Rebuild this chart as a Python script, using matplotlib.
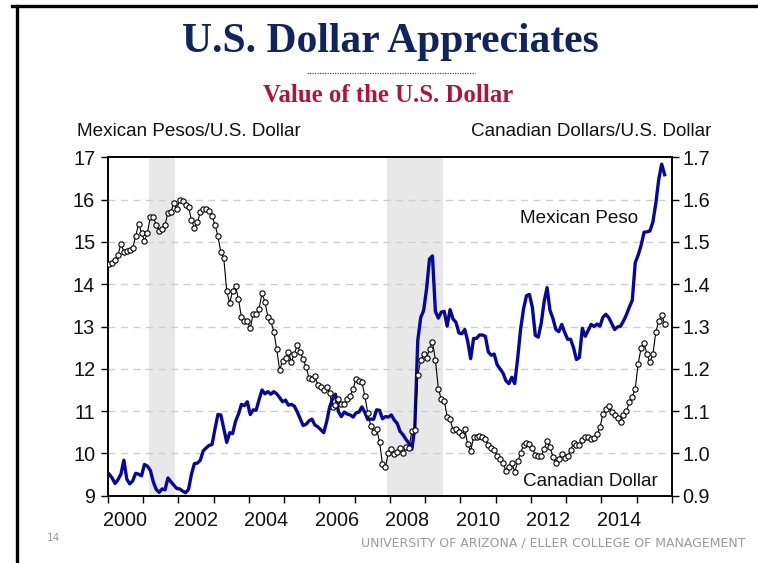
import numpy as np
import matplotlib
matplotlib.use("Agg")
import matplotlib.pyplot as plt
from matplotlib import font_manager
from matplotlib.lines import Line2D
from matplotlib.ticker import FixedLocator, NullFormatter

# ── Data: monthly averages, Jan 2000 - Oct 2015 ───────────────────────────────
start_year = 2000

# Mexican pesos per U.S. dollar (left axis)
mxn = [
    9.51, 9.42, 9.29, 9.38, 9.51, 9.84, 9.39, 9.28, 9.35, 9.53, 9.51, 9.47,          # 2000
    9.74, 9.70, 9.60, 9.33, 9.15, 9.08, 9.16, 9.14, 9.42, 9.33, 9.25, 9.17,          # 2001
    9.16, 9.11, 9.07, 9.15, 9.51, 9.76, 9.77, 9.84, 10.06, 10.13, 10.19, 10.21,      # 2002
    10.58, 10.92, 10.91, 10.58, 10.26, 10.49, 10.47, 10.76, 10.93, 11.16, 11.13, 11.22,  # 2003
    10.92, 11.03, 11.02, 11.27, 11.50, 11.41, 11.46, 11.40, 11.46, 11.41, 11.32, 11.22,  # 2004
    11.26, 11.14, 11.16, 11.12, 10.98, 10.82, 10.66, 10.69, 10.77, 10.81, 10.67, 10.63,  # 2005
    10.56, 10.49, 10.75, 11.09, 11.29, 11.40, 10.99, 10.87, 10.98, 10.93, 10.91, 10.86,  # 2006
    10.96, 10.98, 11.10, 10.97, 10.80, 10.81, 10.81, 11.03, 11.02, 10.82, 10.87, 10.86,  # 2007
    10.91, 10.79, 10.71, 10.52, 10.44, 10.33, 10.24, 10.10, 10.62, 12.67, 13.21, 13.38,  # 2008
    13.89, 14.60, 14.67, 13.36, 13.20, 13.34, 13.36, 13.01, 13.40, 13.18, 13.10, 12.85,  # 2009
    12.83, 12.93, 12.65, 12.24, 12.72, 12.72, 12.80, 12.80, 12.77, 12.40, 12.32, 12.35,  # 2010
    12.10, 12.00, 11.90, 11.72, 11.65, 11.80, 11.65, 12.25, 12.94, 13.42, 13.73, 13.76,  # 2011
    13.45, 12.79, 12.75, 13.07, 13.59, 13.92, 13.38, 13.19, 12.93, 12.88, 13.05, 12.86,  # 2012
    12.70, 12.70, 12.50, 12.22, 12.27, 12.96, 12.77, 12.91, 13.05, 13.00, 13.06, 13.01,  # 2013
    13.22, 13.29, 13.21, 13.07, 12.93, 12.99, 13.01, 13.13, 13.28, 13.46, 13.62, 14.51,  # 2014
    14.69, 14.92, 15.23, 15.24, 15.26, 15.47, 15.91, 16.48, 16.84, 16.59,               # 2015
]

# Canadian dollars per U.S. dollar (right axis)
cad = [
    1.448, 1.451, 1.457, 1.469, 1.496, 1.477, 1.478, 1.482, 1.486, 1.513, 1.543, 1.522,  # 2000
    1.503, 1.521, 1.559, 1.558, 1.541, 1.525, 1.531, 1.540, 1.569, 1.570, 1.593, 1.578,  # 2001
    1.600, 1.596, 1.587, 1.582, 1.552, 1.533, 1.546, 1.570, 1.577, 1.579, 1.572, 1.561,  # 2002
    1.541, 1.513, 1.476, 1.461, 1.384, 1.355, 1.384, 1.396, 1.364, 1.322, 1.313, 1.313,  # 2003
    1.296, 1.330, 1.329, 1.342, 1.379, 1.358, 1.323, 1.313, 1.288, 1.247, 1.197, 1.219,  # 2004
    1.225, 1.240, 1.216, 1.236, 1.256, 1.240, 1.223, 1.204, 1.178, 1.177, 1.182, 1.162,  # 2005
    1.157, 1.149, 1.157, 1.144, 1.110, 1.114, 1.129, 1.118, 1.116, 1.129, 1.136, 1.153,  # 2006
    1.176, 1.171, 1.169, 1.135, 1.096, 1.065, 1.050, 1.058, 1.027, 0.975, 0.967, 1.002,  # 2007
    1.010, 0.999, 1.003, 1.013, 1.000, 1.016, 1.012, 1.053, 1.056, 1.185, 1.221, 1.235,  # 2008
    1.225, 1.248, 1.264, 1.222, 1.153, 1.128, 1.125, 1.087, 1.081, 1.055, 1.058, 1.051,  # 2009
    1.044, 1.057, 1.022, 1.005, 1.039, 1.038, 1.041, 1.040, 1.034, 1.019, 1.012, 1.009,  # 2010
    0.994, 0.987, 0.977, 0.959, 0.968, 0.977, 0.956, 0.981, 1.001, 1.020, 1.025, 1.023,  # 2011
    1.013, 0.996, 0.994, 0.994, 1.011, 1.029, 1.015, 0.992, 0.978, 0.988, 0.998, 0.990,  # 2012
    0.993, 1.009, 1.024, 1.020, 1.019, 1.031, 1.038, 1.039, 1.034, 1.036, 1.045, 1.062,  # 2013
    1.093, 1.104, 1.111, 1.099, 1.090, 1.083, 1.074, 1.091, 1.100, 1.121, 1.133, 1.153,  # 2014
    1.212, 1.249, 1.262, 1.234, 1.216, 1.234, 1.287, 1.313, 1.327, 1.307,               # 2015
]

# NBER recessions (decimal years)
recessions = [(2001.17, 2001.92), (2007.92, 2009.50)]

left_ticks = [9, 10, 11, 12, 13, 14, 15, 16, 17]
right_ticks = [0.9, 1.0, 1.1, 1.2, 1.3, 1.4, 1.5, 1.6, 1.7]
year_labels = [2000, 2002, 2004, 2006, 2008, 2010, 2012, 2014]

# ── Style ────────────────────────────────────────────────────────────────────
NAVY = "#10245e"
CRIMSON = "#b0143c"
BLUE = "#0707a0"
GREY = "#999999"
TICKFONT = "Liberation Sans"

# a narrow sans for the captions if there is one, else plain Liberation Sans
installed = {f.name for f in font_manager.fontManager.ttflist}
if "Liberation Sans Narrow" in installed:
    CAPFONT, CAPSIZE = "Liberation Sans Narrow", 16.5
else:
    CAPFONT, CAPSIZE = "Liberation Sans", 13.6

t_mxn = start_year + (np.arange(len(mxn)) + 0.5) / 12.0
t_cad = start_year + (np.arange(len(cad)) + 0.5) / 12.0

fig = plt.figure(figsize=(7.58, 5.63), dpi=100)
ax = fig.add_axes([0.1421, 0.1195, 0.7444, 0.601])

for a, b in recessions:
    ax.axvspan(a, b, color="#e8e8e8", lw=0, zorder=0)

for v in left_ticks[1:-1]:
    ax.axhline(v, color="#cfcfcf", lw=1.0, ls=(0, (5, 4)), zorder=1)

ax.plot(t_mxn, mxn, color=BLUE, lw=2.4, solid_joinstyle="round", zorder=3)

ax.set_xlim(2000, 2016)
ax.set_ylim(9, 17)
ax.set_yticks(left_ticks)
ax.xaxis.set_major_locator(FixedLocator(np.arange(2000, 2017)))
ax.xaxis.set_major_formatter(NullFormatter())
ax.xaxis.set_minor_locator(FixedLocator([y + 0.5 for y in year_labels]))
ax.set_xticklabels([str(y) for y in year_labels], minor=True)
ax.tick_params(axis="x", which="major", direction="out", length=5, width=1.0)
ax.tick_params(axis="x", which="minor", length=0, pad=11)
ax.tick_params(axis="y", direction="out", length=5, width=1.0, pad=4)
for lab in ax.get_xticklabels(minor=True) + ax.get_yticklabels():
    lab.set_fontfamily(TICKFONT)
    lab.set_fontsize(14.3)
    lab.set_color("#111111")
for s in ax.spines.values():
    s.set_linewidth(1.2)

ax2 = ax.twinx()
ax2.plot(t_cad, cad, color="black", lw=0.8, marker="o", ms=3.8,
         mfc="white", mec="black", mew=0.8, zorder=4)
ax2.set_ylim(0.9, 1.7)
ax2.set_yticks(right_ticks)
ax2.set_yticklabels([f"{v:.1f}" for v in right_ticks])
ax2.tick_params(axis="y", direction="out", length=5, width=1.0, pad=2.5)
for lab in ax2.get_yticklabels():
    lab.set_fontfamily(TICKFONT)
    lab.set_fontsize(14.3)
    lab.set_color("#111111")
for s in ax2.spines.values():
    s.set_linewidth(1.2)

# series labels
ax.text(2011.69, 15.45, "Mexican Peso", family=CAPFONT, fontsize=CAPSIZE,
        color="#111111", ha="left", va="baseline")
ax.text(2011.77, 9.24, "Canadian Dollar", family=CAPFONT, fontsize=CAPSIZE,
        color="#111111", ha="left", va="baseline")

# ── Titles, axis captions, footer ───────────────────────────────────────────
fig.text(0.5145, 0.9076, "U.S. Dollar Appreciates", family="Liberation Serif",
         weight="bold", fontsize=30, color=NAVY, ha="center", va="baseline")
fig.add_artist(Line2D([0.405, 0.627], [0.870, 0.870], transform=fig.transFigure,
                      color=CRIMSON, lw=0.9, ls=(0, (1, 1.0))))
fig.text(0.512, 0.8195, "Value of the U.S. Dollar", family="Liberation Serif",
         weight="bold", fontsize=17.8, color=CRIMSON, ha="center", va="baseline")

fig.text(0.1016, 0.758, "Mexican Pesos/U.S. Dollar", family=CAPFONT,
         fontsize=CAPSIZE, color="#111111", ha="left", va="baseline")
fig.text(0.939, 0.758, "Canadian Dollars/U.S. Dollar", family=CAPFONT,
         fontsize=CAPSIZE, color="#111111", ha="right", va="baseline")

fig.text(0.983, 0.030, "UNIVERSITY OF ARIZONA / ELLER COLLEGE OF MANAGEMENT",
         family="DejaVu Sans", fontsize=9.0, color=GREY, ha="right", va="baseline")
fig.text(0.071, 0.039, "14", family="DejaVu Sans", fontsize=7.5, color=GREY,
         ha="center", va="baseline")

# slide frame (left and top edges)
fig.add_artist(Line2D([0.0224, 0.0224], [0.0, 0.989], transform=fig.transFigure,
                      color="black", lw=2.4))
fig.add_artist(Line2D([0.0158, 1.0], [0.989, 0.989], transform=fig.transFigure,
                      color="black", lw=2.4))

fig.savefig("out.png", dpi=100)
